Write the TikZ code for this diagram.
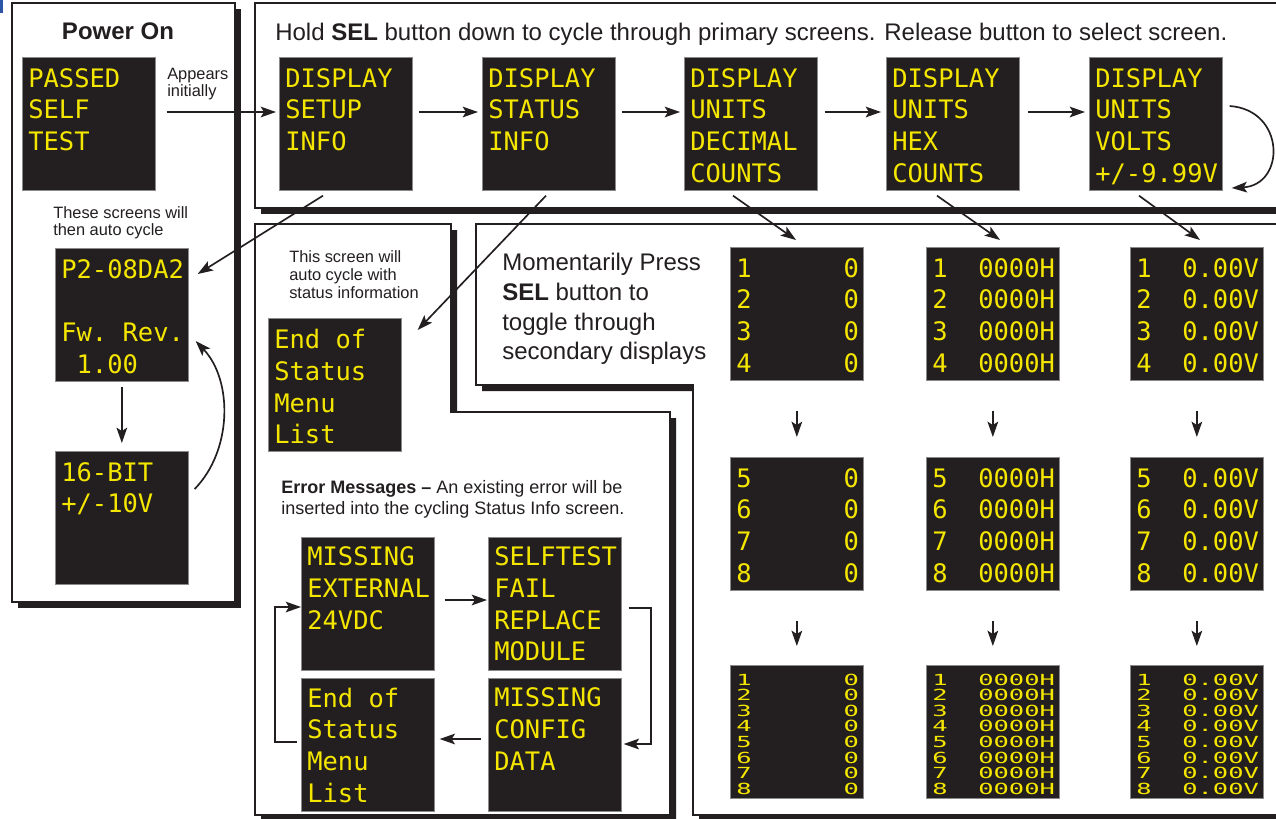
\documentclass[tikz,border=0pt]{standalone}
\usepackage{fontspec}
\setmainfont{Liberation Sans}
\newfontfamily\monofont{DejaVu Sans Mono}
\usetikzlibrary{arrows.meta,calc}
\definecolor{ink}{HTML}{231F20}
\definecolor{lcd}{RGB}{245,230,0}
\definecolor{scrborder}{HTML}{8A8A8A}
\definecolor{markblue}{RGB}{45,85,165}
\tikzset{
  scrbox/.style={draw=scrborder, line width=0.5pt, fill=ink, anchor=north west, inner sep=0pt, minimum width=99.75pt, minimum height=99.75pt},
  scrtxt/.style={anchor=north west, inner sep=0pt, align=left, text=lcd, font=\monofont\fontsize{19.1pt}{23.8pt}\selectfont},
  smalltxt/.style={anchor=north west, inner sep=0pt, text=lcd},
  panel/.style={draw=ink, line width=1.4pt, fill=white, line join=miter},
  shadowfill/.style={fill=ink},
  arr/.style={draw=ink, line width=1.25pt, -{Stealth[length=11.5pt,width=8pt,inset=2.5pt]}},
  lbl/.style={anchor=north west, inner sep=0pt, align=left, text=ink},
}
\newcommand\lcdbox[5][11]{%
  \node[scrbox] (#2) at (#3,#4) {};
  \node[scrtxt] (#2t) at ($(#2.north west)+(6,#1)$) {#5};}
\newcommand\lcdsmall[4]{%
  \node[scrbox] (#1) at (#2,#3) {};
  \node[smalltxt] (#1t) at ($(#1.north west)+(6,8.5)$) {\scalebox{1}[0.6]{\parbox[t]{126pt}{\monofont\fontsize{19.1pt}{19.5pt}\selectfont #4}}};}
\begin{document}
\begin{tikzpicture}[x=0.75pt,y=-0.75pt]
\useasboundingbox (0,0) rectangle (1276,818);
\clip (0,0) rectangle (1276,818);
\fill[white] (0,0) rectangle (1276,818);
\fill[markblue] (0,0) rectangle (3,13);
% panels
\fill[shadowfill] (18,9) rectangle (241,608);
\draw[panel] (12,3) rectangle (235,602);
\fill[shadowfill] (261,9) rectangle (1296,214);
\draw[panel] (255,3) rectangle (1290,208);
\fill[shadowfill, shift={(6,6)}] (255,224) -- (451,224) -- (451,412) -- (670,412) -- (670,815) -- (255,815) -- cycle;
\draw[panel] (255,224) -- (451,224) -- (451,412) -- (670,412) -- (670,815) -- (255,815) -- cycle;
\fill[shadowfill, shift={(6,6)}] (476,224) -- (1290,224) -- (1290,815) -- (693,815) -- (693,385) -- (476,385) -- cycle;
\draw[panel] (476,224) -- (1290,224) -- (1290,815) -- (693,815) -- (693,385) -- (476,385) -- cycle;
% labels
\node[lbl, anchor=north, font=\bfseries\fontsize{18pt}{21pt}\selectfont] (pwr) at (118,22.5) {Power On};
\node[lbl, font=\fontsize{18pt}{21pt}\selectfont] (hdr) at (275,22.5) {Hold \textbf{SEL} button down to cycle through primary screens. Release button to select screen.};
\node[lbl, font=\fontsize{12.3pt}{12.75pt}\selectfont] (app) at (167,68) {Appears\\initially};
\node[lbl, font=\fontsize{12.3pt}{12.75pt}\selectfont] (these) at (53,206.5) {These screens will\\then auto cycle};
\node[lbl, font=\fontsize{12.3pt}{13.5pt}\selectfont] (thisscr) at (289,250) {This screen will\\auto cycle with\\status information};
\node[lbl, font=\fontsize{18pt}{22.3pt}\selectfont] (mom) at (502,253) {Momentarily Press\\\textbf{SEL} button to\\toggle through\\secondary displays};
\node[lbl, font=\fontsize{13.5pt}{15.75pt}\selectfont] (errlbl) at (281,480) {\textbf{Error Messages –} An existing error will be\\inserted into the cycling Status Info screen.};
% screens
\lcdbox{pst}{22}{57}{PASSED\\SELF\\TEST}
\lcdbox{p2}{55}{248}{P2-08DA2\\[23.8pt]Fw.~Rev.\\\phantom{0}1.00}
\lcdbox{bb}{55}{451}{16-BIT\\+/-10V}
\lcdbox{b1}{279}{57}{DISPLAY\\SETUP\\INFO}
\lcdbox{b2}{482}{57}{DISPLAY\\STATUS\\INFO}
\lcdbox{b3}{684}{57}{DISPLAY\\UNITS\\DECIMAL\\COUNTS}
\lcdbox{b4}{886}{57}{DISPLAY\\UNITS\\HEX\\COUNTS}
\lcdbox{b5}{1089}{57}{DISPLAY\\UNITS\\VOLTS\\+/-9.99V}
\lcdbox{es}{268}{318}{End~of\\Status\\Menu\\List}
\lcdbox[9.5]{e1}{301}{537}{MISSING\\EXTERNAL\\24VDC}
\lcdbox[9.5]{e2}{488}{537}{SELFTEST\\FAIL\\REPLACE\\MODULE}
\lcdbox[9.5]{e3}{301}{678}{End~of\\Status\\Menu\\List}
\lcdbox[9.5]{e4}{488}{678}{MISSING\\CONFIG\\DATA}
\lcdbox{s11}{730}{247}{1~~~~~~0\\2~~~~~~0\\3~~~~~~0\\4~~~~~~0}
\lcdbox{s12}{926}{247}{1~~0000H\\2~~0000H\\3~~0000H\\4~~0000H}
\lcdbox{s13}{1130}{247}{1~~0.00V\\2~~0.00V\\3~~0.00V\\4~~0.00V}
\lcdbox{s21}{730}{457}{5~~~~~~0\\6~~~~~~0\\7~~~~~~0\\8~~~~~~0}
\lcdbox{s22}{926}{457}{5~~0000H\\6~~0000H\\7~~0000H\\8~~0000H}
\lcdbox{s23}{1130}{457}{5~~0.00V\\6~~0.00V\\7~~0.00V\\8~~0.00V}
\lcdsmall{s31}{730}{665}{1~~~~~~0\\2~~~~~~0\\3~~~~~~0\\4~~~~~~0\\5~~~~~~0\\6~~~~~~0\\7~~~~~~0\\8~~~~~~0}
\lcdsmall{s32}{926}{665}{1~~0000H\\2~~0000H\\3~~0000H\\4~~0000H\\5~~0000H\\6~~0000H\\7~~0000H\\8~~0000H}
\lcdsmall{s33}{1130}{665}{1~~0.00V\\2~~0.00V\\3~~0.00V\\4~~0.00V\\5~~0.00V\\6~~0.00V\\7~~0.00V\\8~~0.00V}
% arrows
\draw[arr] ($(pst.north east)+(11,55)$) -- ($(b1.north west)+(-3,55)$);
\draw[arr] ($(b1.north east)+(6,55)$) -- ($(b2.north west)+(-4,55)$);
\draw[arr] ($(b2.north east)+(6,55)$) -- ($(b3.north west)+(-4,55)$);
\draw[arr] ($(b3.north east)+(7,55)$) -- ($(b4.north west)+(-5,55)$);
\draw[arr] ($(b4.north east)+(8,55)$) -- ($(b5.north west)+(-4,55)$);
\draw[arr] ($(b5.north east)+(7,49)$) .. controls ($(b5.north east)+(63,53)$) and ($(b5.north east)+(63,128)$) .. ($(b5.north east)+(9,131)$);
\draw[arr] ($(b1.south west)+(44,5)$) -- ($(p2.north east)+(9,26)$);
\draw[arr] ($(b2.south west)+(64,5)$) -- ($(es.north east)+(16,12)$);
\draw[arr] ($(b3.south west)+(49,5)$) -- ($(s11.north west)+(66,-7)$);
\draw[arr] ($(b4.south west)+(51,5)$) -- ($(s12.north west)+(74,-7)$);
\draw[arr] ($(b5.south west)+(50,5)$) -- ($(s13.north west)+(70,-7)$);
\draw[arr] ($(p2.south)+(0,5)$) -- ($(bb.north)+(0,-8)$);
\draw[arr] ($(bb.north east)+(6,38)$) .. controls ($(bb.north east)+(44,-1)$) and ($(p2.north east)+(44,132)$) .. ($(p2.north east)+(7,93)$);
\foreach \c in {1,2,3}{
  \draw[arr] ($(s1\c.south)+(0,30)$) -- ($(s2\c.north)+(0,-20)$);
  \draw[arr] ($(s2\c.south)+(0,30)$) -- ($(s3\c.north)+(0,-19)$);
}
\draw[arr] ($(e1.north east)+(10,63)$) -- ($(e2.north west)+(-1,63)$);
\draw[arr] ($(e2.north east)+(7,71)$) -- ++(22,0) |- ($(e4.north east)+(2,66)$);
\draw[arr] ($(e4.north west)+(-7,61)$) -- ($(e3.north east)+(5,61)$);
\draw[arr] ($(e3.north west)+(-4,64)$) -- ++(-22,0) |- ($(e1.north west)+(0,70)$);
\end{tikzpicture}
\end{document}
